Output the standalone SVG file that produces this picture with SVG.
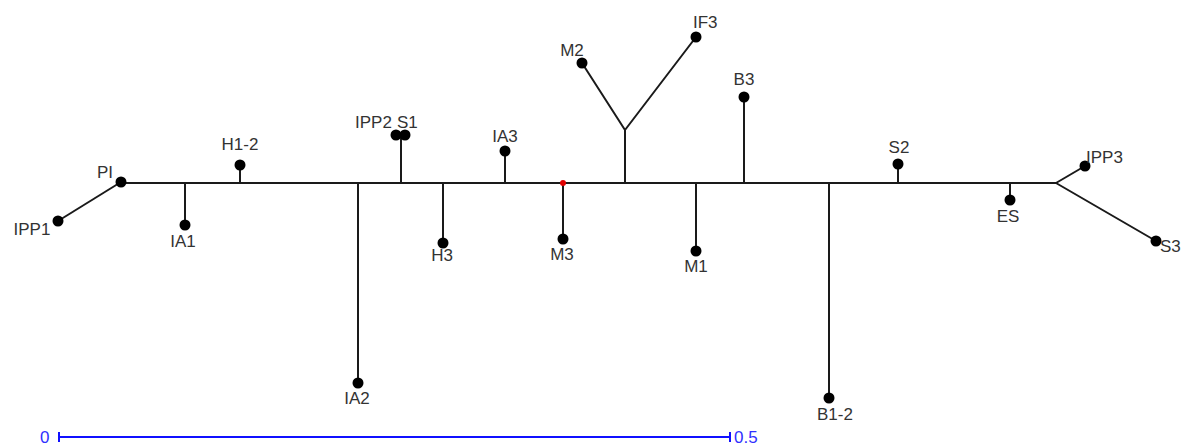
<svg xmlns="http://www.w3.org/2000/svg" width="1185" height="446" viewBox="0 0 1185 446">
  <style>
    .edge { stroke: #1a1a1a; stroke-width: 2; fill: none; stroke-linecap: butt; }
    .tip { fill: #000; }
    .lbl { font-family: "Liberation Sans", Arial, sans-serif; font-size: 17px; fill: #333; text-anchor: middle; }
    .start { text-anchor: start; }
    .scale { stroke: #1010ff; stroke-width: 2; fill: none; }
    .slbl { font-family: "Liberation Sans", Arial, sans-serif; font-size: 17px; fill: #3030ff; }
  </style>
  <rect width="1185" height="446" fill="#fff"/>

  <!-- tree branches -->
  <g id="connectors">
    <path class="edge" d="M121 183 H1056"/>
    <path class="edge" d="M121 182 L58 221"/>
    <path class="edge" d="M185 183 V225"/>
    <path class="edge" d="M240 183 V165"/>
    <path class="edge" d="M358 183 V383"/>
    <path class="edge" d="M401 183 V135"/>
    <path class="edge" d="M443 183 V243"/>
    <path class="edge" d="M505 183 V151"/>
    <path class="edge" d="M563 183 V239"/>
    <path class="edge" d="M625 183 V130 L582 63 M625 130 L696 37"/>
    <path class="edge" d="M696 183 V251"/>
    <path class="edge" d="M744 183 V97"/>
    <path class="edge" d="M829 183 V398"/>
    <path class="edge" d="M898 183 V164"/>
    <path class="edge" d="M1010 183 V200"/>
    <path class="edge" d="M1056 183 L1085 166 M1056 183 L1156 241"/>
  </g>

  <!-- taxa -->
  <g id="PI"><circle class="tip" cx="121" cy="182" r="5.5"/><text class="lbl" x="105" y="178">PI</text></g>
  <g id="IPP1"><circle class="tip" cx="58" cy="221" r="5.5"/><text class="lbl" x="32" y="235">IPP1</text></g>
  <g id="IA1"><circle class="tip" cx="185" cy="225" r="5.5"/><text class="lbl" x="183" y="247">IA1</text></g>
  <g id="H1-2"><circle class="tip" cx="240" cy="165" r="5.5"/><text class="lbl" x="240" y="150">H1-2</text></g>
  <g id="IA2"><circle class="tip" cx="358" cy="383" r="5.5"/><text class="lbl" x="357" y="404">IA2</text></g>
  <g id="IPP2"><circle class="tip" cx="396" cy="135" r="5.5"/><text class="lbl start" x="355" y="128">IPP2</text></g>
  <g id="S1"><circle class="tip" cx="405" cy="135" r="5.5"/><text class="lbl start" x="397" y="128">S1</text></g>
  <g id="H3"><circle class="tip" cx="443" cy="243" r="5.5"/><text class="lbl" x="442" y="261">H3</text></g>
  <g id="IA3"><circle class="tip" cx="505" cy="151" r="5.5"/><text class="lbl" x="505" y="142">IA3</text></g>
  <g id="M3"><circle class="tip" cx="563" cy="239" r="5.5"/><text class="lbl" x="562" y="260">M3</text></g>
  <g id="root"><circle cx="563" cy="183" r="3" fill="#e00000"/></g>
  <g id="M2"><circle class="tip" cx="582" cy="63" r="5.5"/><text class="lbl" x="572" y="56">M2</text></g>
  <g id="IF3"><circle class="tip" cx="696" cy="37" r="5.5"/><text class="lbl start" x="693" y="28">IF3</text></g>
  <g id="M1"><circle class="tip" cx="696" cy="251" r="5.5"/><text class="lbl" x="696" y="272">M1</text></g>
  <g id="B3"><circle class="tip" cx="744" cy="97" r="5.5"/><text class="lbl" x="744" y="85">B3</text></g>
  <g id="B1-2"><circle class="tip" cx="829" cy="398" r="5.5"/><text class="lbl" x="835" y="420">B1-2</text></g>
  <g id="S2"><circle class="tip" cx="898" cy="164" r="5.5"/><text class="lbl" x="899" y="153">S2</text></g>
  <g id="ES"><circle class="tip" cx="1010" cy="200" r="5.5"/><text class="lbl" x="1008" y="222">ES</text></g>
  <g id="IPP3"><circle class="tip" cx="1085" cy="166" r="5.5"/><text class="lbl start" x="1086" y="163">IPP3</text></g>
  <g id="S3"><circle class="tip" cx="1156" cy="241" r="5.5"/><text class="lbl start" x="1160" y="252">S3</text></g>

  <!-- scale bar -->
  <g id="scale">
    <path class="scale" d="M59 437 H730 M59 432 V442 M730 432 V442"/>
    <text class="slbl" x="40" y="443">0</text>
    <text class="slbl" x="734" y="443">0.5</text>
  </g>
</svg>
